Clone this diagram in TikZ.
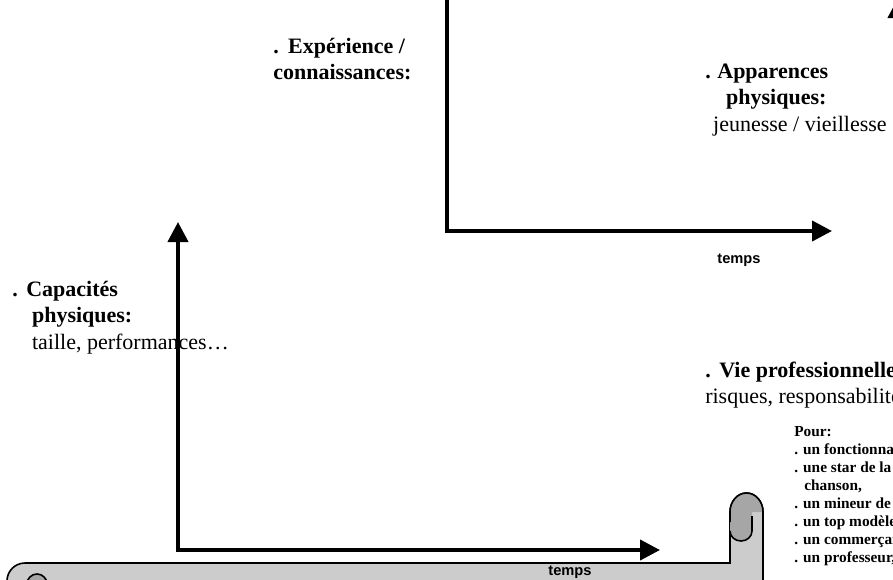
\documentclass[tikz,border=0pt]{standalone}
\usepackage{fontspec}
\setmainfont{Liberation Serif}
\newfontfamily\timefont{Liberation Sans}
\usepackage{xcolor}
\definecolor{scrollgray}{RGB}{204,204,204}
\definecolor{rollgray}{RGB}{166,166,166}
\usepackage{tikz}
\usetikzlibrary{positioning,arrows.meta}

\tikzset{
  axis/.style={line width=3pt,-{Triangle[length=15pt,width=15pt]}},
  biaxis/.style={line width=3pt,{Triangle[length=15pt,width=15pt]}-{Triangle[length=15pt,width=15pt]}},
  bigtext/.style={font=\fontsize{16.5}{19.9}\selectfont,inner sep=0pt,anchor=base west},
  listtext/.style={font=\fontsize{11.5}{13.6}\selectfont,inner sep=0pt,anchor=base west},
  timelabel/.style={font=\timefont\fontsize{11}{13}\selectfont\bfseries,inner sep=0pt},
  scroll/.style={draw=black,line width=1.2pt,fill=scrollgray},
}

\begin{document}
\begin{tikzpicture}[x=0.75pt,y=-0.75pt]
  \useasboundingbox (0,0) rectangle (893,579);
  \clip (0,0) rectangle (893,579);

  % scroll along the bottom
  \path[scroll] (7,600) -- (7,581) arc[start angle=180,end angle=270,radius=18]
    -- (730,563) -- (730,512) arc[start angle=180,end angle=360,x radius=16.5,y radius=19]
    -- (763,600) -- cycle;
  \fill[rollgray] (730,512) arc[start angle=180,end angle=360,x radius=16.5,y radius=19]
    -- (752,512) -- (752,531) arc[start angle=0,end angle=180,x radius=11,y radius=10] -- cycle;
  \draw[line width=1.2pt] (730,522) -- (730,512)
    arc[start angle=180,end angle=360,x radius=16.5,y radius=19] -- (763,522);
  \draw[line width=1.2pt] (752,516) -- (752,531) arc[start angle=0,end angle=180,x radius=11,y radius=10];
  \path[scroll,fill=rollgray] (37,584) circle[radius=10];

  % axes
  \coordinate (upTop) at (447,-12);
  \coordinate (upEnd) at (832,231);
  \draw[axis] (upTop) |- (upEnd);
  \coordinate (rtBase) at (898,240);
  \coordinate (rtTip) at (898,-2);
  \draw[axis] (rtBase) -- (rtTip);
  \coordinate (loTip) at (178,222);
  \coordinate (loEnd) at (660,550);
  \draw[biaxis] (loTip) |- (loEnd);

  \node[timelabel] (upTime) at (739,260) {temps};
  \node[timelabel] (loTime) at (570,572) {temps};

  % texts
  \node[bigtext] (exper) at (273,53) {\begin{tabular}[t]{@{}l@{}}
      \textbf{.\hspace{0.43em}Expérience /}\\
      \textbf{connaissances:}
    \end{tabular}};
  \node[bigtext] (appar) at (705,78) {\begin{tabular}[t]{@{}l@{}}
      \textbf{.\hspace{0.3em}Apparences}\\
      \hspace*{0.95em}\textbf{physiques:}\\
      \hspace*{0.36em}jeunesse / vieillesse
    \end{tabular}};
  \node[bigtext] (capac) at (12,296) {\begin{tabular}[t]{@{}l@{}}
      \textbf{.\hspace{0.39em}Capacités}\\
      \hspace*{0.9em}\textbf{physiques:}\\
      \hspace*{0.9em}taille, performances…
    \end{tabular}};
  \node[bigtext] (viepro) at (705,377) {\begin{tabular}[t]{@{}l@{}}
      \textbf{.\hspace{0.39em}Vie professionnelle:}\\
      risques, responsabilités
    \end{tabular}};
  \node[listtext] (pour) at (794,436) {\begin{tabular}[t]{@{}l@{}}
      \textbf{Pour:}\\
      \textbf{. un fonctionnaire,}\\
      \textbf{. une star de la}\\
      \hspace*{0.66em}\textbf{chanson,}\\
      \textbf{. un mineur de fond,}\\
      \textbf{. un top modèle,}\\
      \textbf{. un commerçant,}\\
      \textbf{. un professeur,}
    \end{tabular}};
\end{tikzpicture}
\end{document}
